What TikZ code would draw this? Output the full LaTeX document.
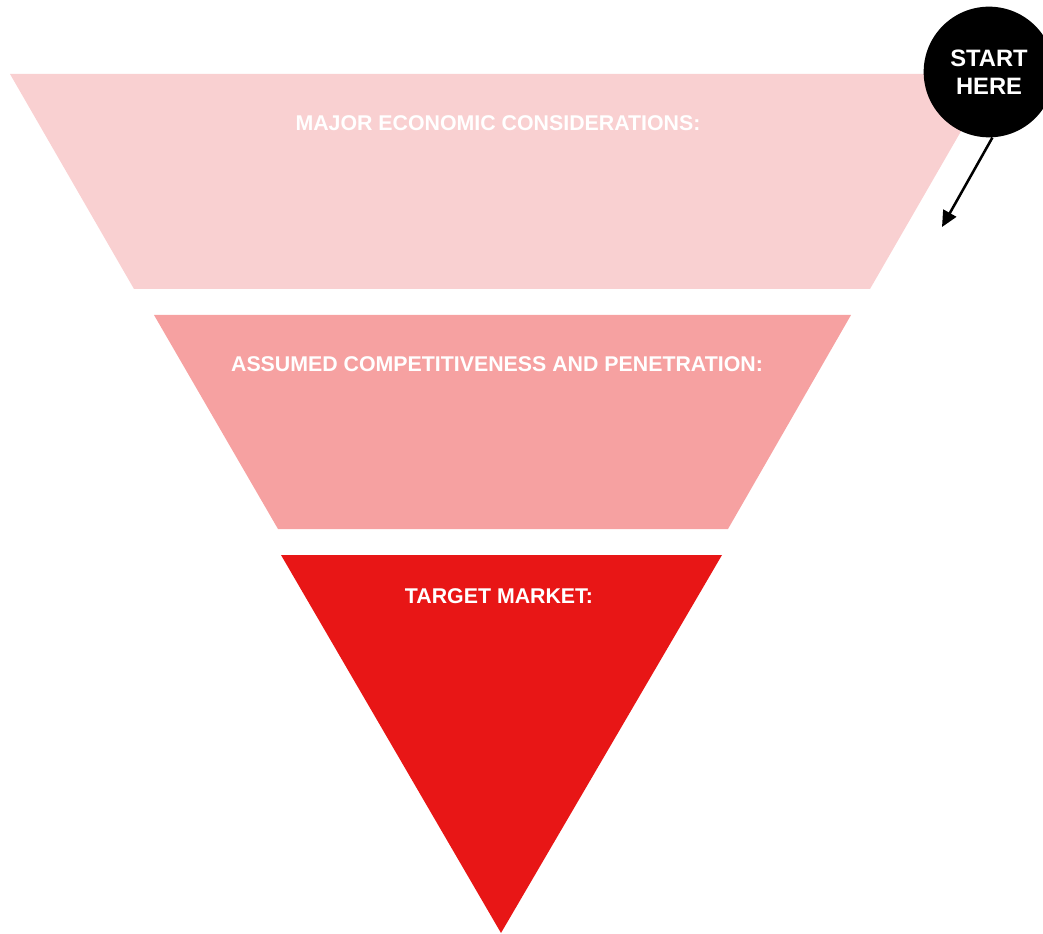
\documentclass[tikz,border=0pt]{standalone}
\usepackage{fontspec}
\setmainfont{Liberation Sans}
\usetikzlibrary{arrows.meta}
\definecolor{pinkA}{HTML}{F9D0D1}
\definecolor{pinkB}{HTML}{F6A1A1}
\definecolor{redC}{HTML}{E81616}
\begin{document}
\begin{tikzpicture}[x=0.75pt,y=-0.75pt,
  lbl/.style={text=white,font=\bfseries\fontsize{16pt}{19pt}\selectfont,inner sep=0pt},
  startnode/.style={circle,fill=black,minimum size=98pt,inner sep=0pt,text=white,align=center,font=\bfseries\fontsize{17.8pt}{21pt}\selectfont}]
\useasboundingbox (0,0) rectangle (1043,934);
\begin{scope}
\clip (0,0) rectangle (1043,934);
% top trapezoid
\fill[pinkA] (10,74) -- (994,74) -- (870,289) -- (134,289) -- cycle;
% middle trapezoid
\fill[pinkB] (154,315) -- (851,315) -- (728,529) -- (278,529) -- cycle;
% bottom triangle
\fill[redC] (281,555) -- (722,555) -- (501,933) -- cycle;
\node[lbl] (t1) at (498,123) {MAJOR ECONOMIC CONSIDERATIONS:};
\node[lbl] (t2) at (497,364) {ASSUMED COMPETITIVENESS AND PENETRATION:};
\node[lbl] (t3) at (499,596) {TARGET MARKET:};
\node[startnode] (start) at (989,72) {\raisebox{-2pt}{\parbox{80pt}{\centering START\\HERE}}};
\coordinate (tip) at (942,227);
\draw[line width=1.9pt,-{Triangle[length=12pt,width=11pt]}] (start.-87) -- (tip);
\end{scope}
\end{tikzpicture}
\end{document}
